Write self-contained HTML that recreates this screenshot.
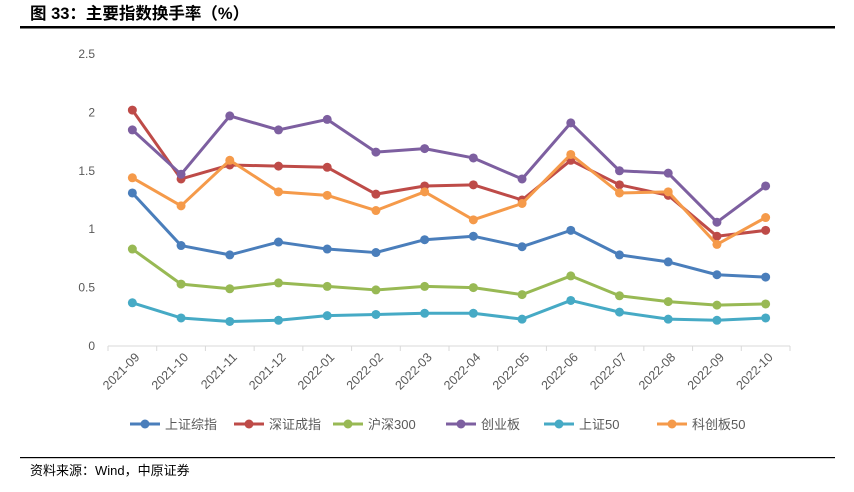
<!DOCTYPE html>
<html><head><meta charset="utf-8">
<style>
body{margin:0;background:#fff;width:854px;height:487px;overflow:hidden;font-family:"Liberation Sans","Noto Sans CJK SC",sans-serif;}
svg text{font-family:"Liberation Sans","Noto Sans CJK SC",sans-serif;}
</style></head>
<body>
<svg width="854" height="487">
<text x="30" y="19" font-size="16.5" font-weight="bold" fill="#000">图 33：主要指数换手率（%）</text>
<rect x="20" y="26" width="815" height="2.5" fill="#000"/>
<rect x="20" y="457" width="815" height="1.2" fill="#000"/>
<text x="30" y="475" font-size="13" fill="#000">资料来源：Wind，中原证券</text>
<g id="plot"></g>
</svg>
<script>
const categories=["2021-09","2021-10","2021-11","2021-12","2022-01","2022-02","2022-03","2022-04","2022-05","2022-06","2022-07","2022-08","2022-09","2022-10"];
const yTicks=["0","0.5","1","1.5","2","2.5"];
const seriesNames=["上证综指","深证成指","沪深300","创业板","上证50","科创板50"];
const s1=[1.31,0.86,0.78,0.89,0.83,0.80,0.91,0.94,0.85,0.99,0.78,0.72,0.61,0.59];
const s2=[2.02,1.43,1.55,1.54,1.53,1.30,1.37,1.38,1.25,1.59,1.38,1.29,0.94,0.99];
const s3=[0.83,0.53,0.49,0.54,0.51,0.48,0.51,0.50,0.44,0.60,0.43,0.38,0.35,0.36];
const s4=[1.85,1.47,1.97,1.85,1.94,1.66,1.69,1.61,1.43,1.91,1.50,1.48,1.06,1.37];
const s5=[0.37,0.24,0.21,0.22,0.26,0.27,0.28,0.28,0.23,0.39,0.29,0.23,0.22,0.24];
const s6=[1.44,1.20,1.59,1.32,1.29,1.16,1.32,1.08,1.22,1.64,1.31,1.32,0.87,1.10];
const series=[s1,s2,s3,s4,s5,s6];
const colors=["#4a7ebb","#be4b48","#98b954","#7d5fa0","#46aac5","#f59a4a"];
const NS="http://www.w3.org/2000/svg";
const g=document.getElementById("plot");
const x0=108,x1=790,yB=346,yT=54,yMax=2.5;
const bw=(x1-x0)/categories.length;
const X=i=>x0+bw*(i+0.5);
const Y=v=>yB-(v/yMax)*(yB-yT);
function mk(t,a){const e=document.createElementNS(NS,t);for(const k in a)e.setAttribute(k,a[k]);g.appendChild(e);return e;}
yTicks.forEach(t=>{
  const e=mk("text",{x:95,y:Y(+t)+4,"font-size":12,fill:"#595959","text-anchor":"end"});
  e.textContent=t;
  
  
});
const ax=mk("line",{x1:x0,x2:x1,y1:yB,y2:yB,stroke:"#d9d9d9","stroke-width":1});


for(let i=0;i<=categories.length;i++){
  const tk=mk("line",{x1:x0+bw*i,x2:x0+bw*i,y1:yB,y2:yB+5,stroke:"#d9d9d9"});
  
  
}
categories.forEach((c,i)=>{
  const cx=X(i)+8,cy=yB+12;
  const e=mk("text",{x:cx,y:cy,"font-size":12.5,fill:"#595959","text-anchor":"end",transform:`rotate(-45 ${cx} ${cy})`});
  e.textContent=c;
  
  
});
series.forEach((s,k)=>{
  const p=mk("polyline",{points:s.map((v,i)=>X(i)+","+Y(v)).join(" "),fill:"none",stroke:colors[k],"stroke-width":3,"stroke-linejoin":"round"});
  
  
  s.forEach((v,i)=>{
    const c=mk("circle",{cx:X(i),cy:Y(v),r:4.5,fill:colors[k]});
    
    
  });
});
const legX=[130,234,333,446,544,657];
seriesNames.forEach((n,k)=>{
  const ly=424,lx=legX[k];
  const l=mk("line",{x1:lx,x2:lx+30,y1:ly,y2:ly,stroke:colors[k],"stroke-width":3});
  
  
  const c=mk("circle",{cx:lx+15,cy:ly,r:4.5,fill:colors[k]});
  
  
  const t=mk("text",{x:lx+35,y:ly+5,"font-size":13,fill:"#595959"});
  t.textContent=n;
  
  
});
</script>
</body></html>
